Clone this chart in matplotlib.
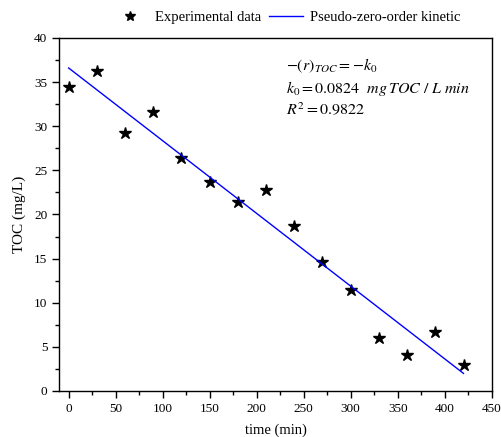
import matplotlib
matplotlib.use("Agg")
import matplotlib.pyplot as plt
import numpy as np
from matplotlib.ticker import MultipleLocator

plt.rcParams['font.family'] = ['Liberation Serif', 'DejaVu Serif']
plt.rcParams['mathtext.fontset'] = 'stix'

time_min = [0, 30, 60, 90, 120, 150, 180, 210, 240, 270, 300, 330, 360, 390, 420]
toc = [34.4, 36.3, 29.2, 31.6, 26.4, 23.7, 21.4, 22.8, 18.7, 14.6, 11.4, 6.0, 4.1, 6.7, 2.9]
fit_intercept = 36.6
k0 = 0.0824

fig = plt.figure(figsize=(5.02, 4.37), dpi=100)
ax = fig.add_axes([0.118, 0.1053, 0.8615, 0.8078])

t = np.array(time_min, dtype=float)
fit = fit_intercept - k0 * t
ax.plot(time_min, toc, linestyle='none', marker='*', color='black', markersize=9,
        label='Experimental data')
ax.plot(t, fit, color='blue', linewidth=1.0, label='Pseudo-zero-order kinetic')

ax.set_xlim(-10, 450)
ax.set_ylim(0, 40)
ax.xaxis.set_major_locator(MultipleLocator(50))
ax.xaxis.set_minor_locator(MultipleLocator(25))
ax.yaxis.set_major_locator(MultipleLocator(5))
ax.yaxis.set_minor_locator(MultipleLocator(2.5))
ax.tick_params(which='both', direction='out', top=False, right=False, labelsize=9.5)
ax.tick_params(which='major', length=5, width=1)
ax.tick_params(which='minor', length=3, width=1)
for s in ax.spines.values():
    s.set_linewidth(1.0)

ax.set_xlabel('time (min)', fontsize=10.5, labelpad=6)
ax.set_ylabel('TOC (mg/L)', fontsize=11, labelpad=6)

ax.text(0.525, 0.921, r'$-\left(r\right)_{TOC}=-k_0$', transform=ax.transAxes, fontsize=11.5, va='center')
ax.text(0.525, 0.858, r'$k_0=0.0824\ \ mg\,TOC\ /\ L\ min$', transform=ax.transAxes, fontsize=11.5, va='center')
ax.text(0.525, 0.795, r'$R^2=0.9822$', transform=ax.transAxes, fontsize=11.5, va='center')

leg = ax.legend(loc='center', bbox_to_anchor=(0.527, 1.057), ncol=2, frameon=False,
                fontsize=10.5, handlelength=2.3, columnspacing=0.6, handletextpad=0.5,
                markerscale=0.8)

fig.savefig('out.png', dpi=100)
